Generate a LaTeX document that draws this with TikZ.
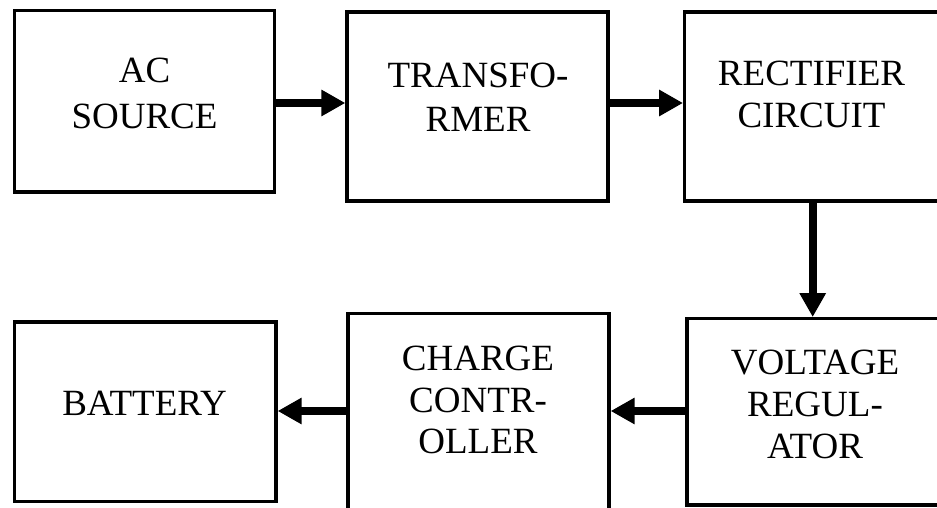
\documentclass[tikz,border=0pt]{standalone}
\usepackage{fontspec}
\setmainfont{Liberation Serif}
\usetikzlibrary{arrows.meta}
\tikzset{
  blk/.style={draw=black, line width=3.3pt, inner sep=0pt, fill=white},
  lbl/.style={inner sep=0pt, align=center, text=black},
  arr/.style={line width=8pt, -{Triangle[length=24pt,width=25pt]}}
}
\newcommand{\lblfont}[1]{\fontsize{37}{#1}\selectfont}
\begin{document}
\begin{tikzpicture}[x=1pt,y=-1pt]
\fill[white] (0,0) rectangle (937,508);
\clip (0,0) rectangle (937,508);
% boxes
\node[blk, minimum width=260.2pt, minimum height=181.7pt] (ac) at (144.6,101.15) {};
\node[blk, minimum width=261pt, minimum height=189pt] (tr) at (477.5,106.5) {};
\node[blk, minimum width=256pt, minimum height=189pt] (re) at (812.7,106.5) {};
\node[blk, minimum width=251.4pt, minimum height=186.3pt] (vr) at (812.7,411.85) {};
\node[blk, minimum width=261pt, minimum height=198.3pt] (cc) at (478.5,412.85) {};
\node[blk, minimum width=261.5pt, minimum height=179.3pt] (ba) at (145.25,411.65) {};
% labels
\node[lbl, font=\lblfont{46.6}] (t1) at (144.5,93.3) {AC\\SOURCE};
\node[lbl, font=\lblfont{44.4}] (t2) at (478,97.2) {TRANSFO-\\RMER};
\node[lbl, font=\lblfont{42.3}] (t3) at (811.5,94.7) {RECTIFIER\\CIRCUIT};
\node[lbl, font=\lblfont{42}] (t4) at (815,404.5) {VOLTAGE\\REGUL-\\ATOR};
\node[lbl, font=\lblfont{41.5}] (t5) at (478,400) {CHARGE\\CONTR-\\OLLER};
\node[lbl, font=\lblfont{42}] (t6) at (144.5,403.5) {BATTERY};
% connectors
\draw[arr] (ac.east |- 0,103) -- (tr.west |- 0,103);
\draw[arr] (tr.east |- 0,103) -- (re.west |- 0,103);
\draw[arr] (re.south) -- (vr.north);
\draw[arr] (vr.west |- 0,411) -- (cc.east |- 0,411);
\draw[arr] (cc.west |- 0,411) -- (ba.east |- 0,411);
\end{tikzpicture}
\end{document}
